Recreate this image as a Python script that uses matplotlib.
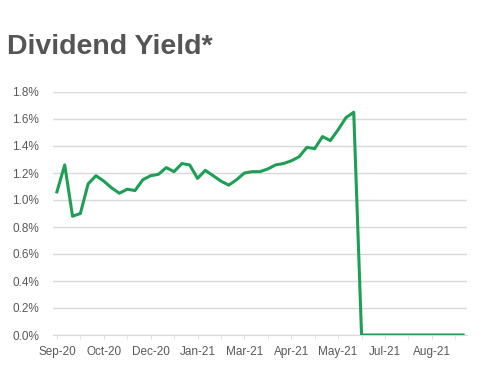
import matplotlib
matplotlib.use("Agg")
import matplotlib.pyplot as plt
from matplotlib.ticker import FuncFormatter, FixedLocator

# weekly dividend yield, %
yield_pct = [1.06, 1.26, 0.88, 0.90, 1.12, 1.18, 1.14, 1.09, 1.05, 1.08,
             1.07, 1.15, 1.18, 1.19, 1.24, 1.21, 1.27, 1.26, 1.16, 1.22,
             1.18, 1.14, 1.11, 1.15, 1.20, 1.21, 1.21, 1.23, 1.26, 1.27,
             1.29, 1.32, 1.39, 1.38, 1.47, 1.44, 1.52, 1.61, 1.65, 0.0,
             0.0, 0.0, 0.0, 0.0, 0.0, 0.0, 0.0, 0.0, 0.0, 0.0,
             0.0, 0.0, 0.0]
tick_labels = ["Sep-20", "Oct-20", "Dec-20", "Jan-21", "Mar-21",
               "Apr-21", "May-21", "Jul-21", "Aug-21"]
y_ticks = [0.0, 0.2, 0.4, 0.6, 0.8, 1.0, 1.2, 1.4, 1.6, 1.8]

plt.rcParams['font.family'] = ['Liberation Sans', 'DejaVu Sans']

fig = plt.figure(figsize=(4.82, 3.69), dpi=100)
ax = fig.add_axes([53 / 482, 1 - 335 / 369, 414 / 482, 243 / 369])

x = list(range(len(yield_pct)))
ax.plot(x, yield_pct, color='#1f9e55', linewidth=2.2, solid_joinstyle='round', zorder=3)

ax.set_xlim(-0.5, len(yield_pct) - 0.5)
ax.set_ylim(0, 1.8)
ax.set_yticks(y_ticks)
ax.yaxis.set_major_formatter(FuncFormatter(lambda v, p: f"{v:.1f}%"))

ax.set_xticks(list(range(0, 6 * len(tick_labels), 6)))
ax.set_xticklabels(tick_labels)
ax.xaxis.set_minor_locator(FixedLocator([i for i in range(0, len(yield_pct), 3) if i % 6]))

ax.grid(axis='y', color='#d9d9d9', linewidth=1)
ax.set_axisbelow(True)
for s in ['top', 'right', 'left']:
    ax.spines[s].set_visible(False)
ax.spines['bottom'].set_color('#d9d9d9')

ax.tick_params(axis='y', length=0, pad=10, labelsize=8.5, labelcolor='#595959')
ax.tick_params(axis='x', which='major', length=3, color='#e0e0e0', pad=5,
               labelsize=8.5, labelcolor='#595959')
ax.tick_params(axis='x', which='minor', length=3, color='#e0e0e0')

fig.text(7 / 482, 1 - 54 / 369, "Dividend Yield*", fontsize=20.5, fontweight='bold',
         color='#555555', ha='left', va='baseline')

fig.savefig('out.png', dpi=100, facecolor='white')
